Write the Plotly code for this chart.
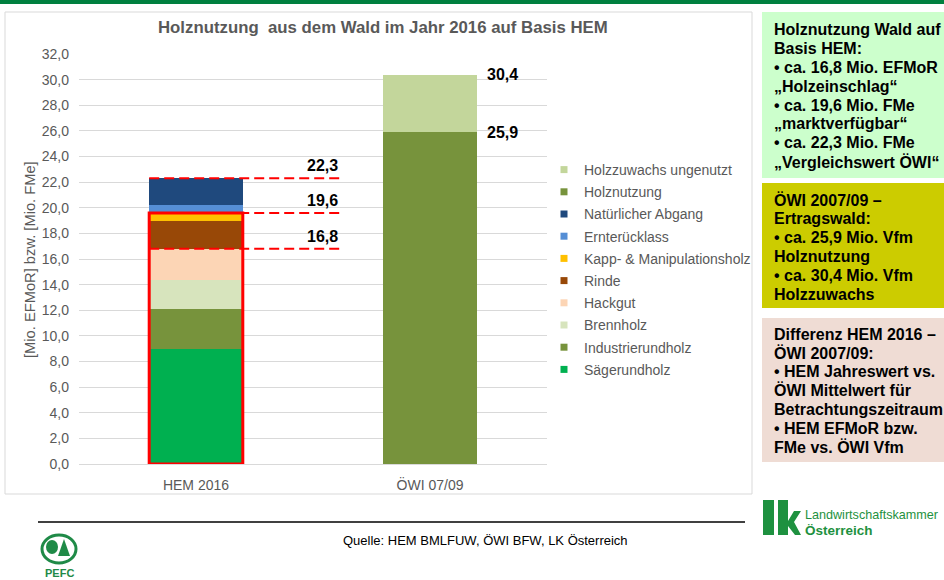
import plotly.graph_objects as go

W, H = 944, 580
def px(x):
    return x / W
def py(y):
    return 1 - y / H

categories = ["HEM 2016", "ÖWI 07/09"]

hem_series = ["Sägerundholz", "Industrierundholz", "Brennholz", "Hackgut", "Rinde",
              "Kapp- & Manipulationsholz", "Ernterücklass", "Natürlicher Abgang"]
hem_values = [9.0, 3.1, 2.3, 2.4, 2.2, 0.6, 0.6, 2.1]
hem_colors = ["#00b050", "#77933c", "#d7e4bd", "#fcd5b5", "#984807", "#ffc000", "#558ed5", "#1f497d"]

owi_series = ["Holznutzung", "Holzzuwachs ungenutzt"]
owi_values = [25.9, 4.5]
owi_colors = ["#77933c", "#c3d69b"]

# which cumulative HEM levels are marked (index of last series included)
hem_mark_idx = [3, 5, 7]   # 16,8 / 19,6 / 22,3
red_box_idx = 5            # box up to 19,6

y_ticks = [i * 2 for i in range(17)]

title = "Holznutzung&nbsp; aus dem Wald im Jahr 2016 auf Basis HEM"
y_title = "[Mio. EFMoR] bzw. [Mio. FMe]"
source = "Quelle: HEM BMLFUW, ÖWI BFW, LK Österreich"

box_green = ["Holznutzung Wald auf", "Basis HEM:", "• ca. 16,8 Mio. EFMoR", "„Holzeinschlag“",
             "• ca. 19,6 Mio. FMe", "„marktverfügbar“", "• ca. 22,3 Mio. FMe", "„Vergleichswert ÖWI“"]
box_yellow = ["ÖWI 2007/09 –", "Ertragswald:", "• ca. 25,9 Mio. Vfm", "Holznutzung",
              "• ca. 30,4 Mio. Vfm", "Holzzuwachs"]
box_pink = ["Differenz HEM 2016 –", "ÖWI 2007/09:", "• HEM Jahreswert vs.", "ÖWI Mittelwert für",
            "Betrachtungszeitraum", "• HEM EFMoR bzw.", "FMe vs. ÖWI Vfm"]

def fmt(v):
    return f"{v:.1f}".replace(".", ",")

fig = go.Figure()
BW = 0.4
for name, val, col in zip(hem_series, hem_values, hem_colors):
    fig.add_trace(go.Bar(x=categories, y=[val, None], name=name, marker=dict(color=col, line=dict(width=0)),
                         width=BW, showlegend=False, hoverinfo="name+y"))
for name, val, col in zip(owi_series, owi_values, owi_colors):
    fig.add_trace(go.Bar(x=categories, y=[None, val], name=name, marker=dict(color=col, line=dict(width=0)),
                         width=BW, showlegend=False, hoverinfo="name+y"))
# legend entries (small square symbols), top of stack first
all_names = hem_series + owi_series
all_colors = hem_colors + owi_colors
for i in range(len(all_names) - 1, -1, -1):
    fig.add_trace(go.Scatter(x=[None], y=[None], mode="markers", name=all_names[i], legendgroup=f"g{i}",
                             marker=dict(symbol="square", size=7, color=all_colors[i]), showlegend=True))

cum = []
s = 0
for v in hem_values:
    s = round(s + v, 1)
    cum.append(s)
owi_cum = []
s = 0
for v in owi_values:
    s = round(s + v, 1)
    owi_cum.append(s)

shapes = []
annotations = []

# top green strip
shapes.append(dict(type="rect", xref="paper", yref="paper", x0=0, x1=1, y0=py(4), y1=1,
                   fillcolor="#00803f", line=dict(width=0), layer="below"))
# chart frame
shapes.append(dict(type="rect", xref="paper", yref="paper", x0=px(5), x1=px(752), y0=py(494), y1=py(12),
                   fillcolor="rgba(0,0,0,0)", line=dict(color="#d9d9d9", width=1), layer="below"))
# red box
shapes.append(dict(type="rect", xref="x", yref="y", x0=-BW / 2, x1=BW / 2, y0=0, y1=cum[red_box_idx],
                   line=dict(color="#ff0000", width=3)))
# dashed lines + labels
for idx in hem_mark_idx:
    shapes.append(dict(type="line", xref="x", yref="y", x0=-BW / 2, x1=0.62, y0=cum[idx], y1=cum[idx],
                       line=dict(color="#ff0000", width=2, dash="10px,5px")))
    annotations.append(dict(xref="x", yref="y", x=0.615, y=cum[idx], text=f"<b>{fmt(cum[idx])}</b>",
                            xanchor="right", yanchor="bottom", yshift=2, showarrow=False,
                            font=dict(family="Liberation Sans", size=16, color="#000000")))
for v in owi_cum:
    annotations.append(dict(xref="x", yref="y", x=1 + BW / 2, y=v, text=f"<b>{fmt(v)}</b>",
                            xanchor="left", yanchor="middle", xshift=8, showarrow=False,
                            font=dict(family="Liberation Sans", size=16, color="#000000")))

# title
annotations.append(dict(xref="paper", yref="paper", x=px(383), y=py(28), text=f"<b>{title}</b>",
                        xanchor="center", yanchor="middle", showarrow=False,
                        font=dict(family="Liberation Sans", size=16.8, color="#595959")))
# y title
annotations.append(dict(xref="paper", yref="paper", x=px(30), y=py(260), text=y_title, textangle=-90,
                        xanchor="center", yanchor="middle", showarrow=False,
                        font=dict(family="Liberation Sans", size=14.7, color="#595959")))

# right text boxes
def add_box(lines, top, bottom, color, first_y, step=18.8):
    shapes.append(dict(type="rect", xref="paper", yref="paper", x0=px(762), x1=1, y0=py(bottom), y1=py(top),
                       fillcolor=color, line=dict(width=0), layer="below"))
    for k, ln in enumerate(lines):
        annotations.append(dict(xref="paper", yref="paper", x=px(772), y=py(first_y + k * step),
                                text=f"<b>{ln}</b>", xanchor="left", yanchor="middle", showarrow=False,
                                font=dict(family="Liberation Sans", size=16, color="#000000")))

add_box(box_green, 12, 178, "#ccffcc", 30)
add_box(box_yellow, 183, 308, "#cccc00", 200)
add_box(box_pink, 318, 462, "#efdcd4", 334)

# footer line and source
shapes.append(dict(type="line", xref="paper", yref="paper", x0=px(38), x1=px(745), y0=py(522), y1=py(522),
                   line=dict(color="#000000", width=1.5)))
annotations.append(dict(xref="paper", yref="paper", x=px(485), y=py(540), text=source,
                        xanchor="center", yanchor="middle", showarrow=False,
                        font=dict(family="Liberation Sans", size=13, color="#000000")))

# LK logo
LK = "#1e9140"
shapes.append(dict(type="rect", xref="paper", yref="paper", x0=px(763), x1=px(774), y0=py(535), y1=py(500),
                   fillcolor=LK, line=dict(width=0)))
shapes.append(dict(type="rect", xref="paper", yref="paper", x0=px(778), x1=px(788), y0=py(535), y1=py(500),
                   fillcolor=LK, line=dict(width=0)))
kpts = [(788, 521), (794, 511), (801, 511), (794, 522), (801, 535), (795, 535), (788, 526)]
kpath = "M " + " L ".join(f"{px(a)} {py(b)}" for a, b in kpts) + " Z"
shapes.append(dict(type="path", xref="paper", yref="paper", path=kpath, fillcolor=LK, line=dict(width=0)))
annotations.append(dict(xref="paper", yref="paper", x=px(803), y=py(515), text="Landwirtschaftskammer",
                        xanchor="left", yanchor="middle", showarrow=False,
                        font=dict(family="Liberation Sans", size=12.6, color=LK)))
annotations.append(dict(xref="paper", yref="paper", x=px(803), y=py(530), text="<b>Österreich</b>",
                        xanchor="left", yanchor="middle", showarrow=False,
                        font=dict(family="Liberation Sans", size=13.5, color=LK)))

# PEFC logo
PG = "#1f8a47"
shapes.append(dict(type="circle", xref="paper", yref="paper", x0=px(42), x1=px(76), y0=py(563), y1=py(535),
                   fillcolor="rgba(0,0,0,0)", line=dict(color=PG, width=3)))
shapes.append(dict(type="circle", xref="paper", yref="paper", x0=px(46), x1=px(58), y0=py(554), y1=py(540),
                   fillcolor=PG, line=dict(width=0)))
shapes.append(dict(type="path", xref="paper", yref="paper",
                   path="M {} {} L {} {} L {} {} Z".format(px(58), py(556), px(64), py(539), px(70), py(556)),
                   fillcolor=PG, line=dict(width=0)))
annotations.append(dict(xref="paper", yref="paper", x=px(59), y=py(573), text="<b>PEFC</b>",
                        xanchor="center", yanchor="middle", showarrow=False,
                        font=dict(family="Liberation Sans", size=11, color=PG)))

fig.update_layout(
    width=W, height=H, autosize=False,
    margin=dict(l=0, r=0, t=0, b=0, pad=0, autoexpand=False),
    paper_bgcolor="#ffffff", plot_bgcolor="#ffffff",
    barmode="stack",
    separators=",.",
    showlegend=True,
    legend=dict(x=px(544), y=py(154), xanchor="left", yanchor="top", traceorder="grouped",
                tracegroupgap=1, font=dict(family="Liberation Sans", size=14, color="#595959"),
                bgcolor="rgba(0,0,0,0)", itemclick=False, itemdoubleclick=False),
    xaxis=dict(domain=[px(79), px(547)], type="category", range=[-0.5, 1.5], showgrid=False,
               showline=True, linecolor="#d9d9d9", ticks="", ticklabelstandoff=8, automargin=False,
               tickfont=dict(family="Liberation Sans", size=14, color="#595959"), fixedrange=True),
    yaxis=dict(domain=[py(464), py(54)], range=[0, 32], tickvals=y_ticks, tickformat=".1f",
               showgrid=True, gridcolor="#d9d9d9", gridwidth=1, zeroline=False, showline=False,
               ticks="", ticklabelstandoff=9, automargin=False,
               tickfont=dict(family="Liberation Sans", size=14, color="#595959"), fixedrange=True),
    shapes=shapes, annotations=annotations,
)

post = (
    "document.documentElement.style.cssText='margin:0;padding:0;overflow:hidden;';"
    "document.body.style.cssText='margin:0;padding:0;overflow:hidden;';"
    "var gd=document.querySelector('.plotly-graph-div');"
    "gd.style.position='fixed';gd.style.left='0px';gd.style.top='0px';"
)
fig.write_html("out.html", config={"displayModeBar": False}, post_script=post)
